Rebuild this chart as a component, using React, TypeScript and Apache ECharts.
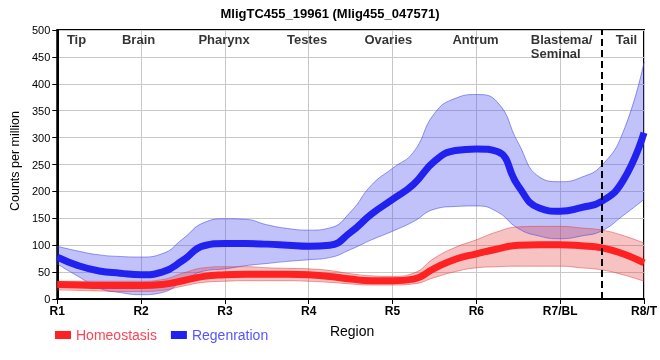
import React, { useEffect, useRef } from "react";
import * as echarts from "echarts";

const titleText = "MligTC455_19961 (Mlig455_047571)";
const xTickLabels = ["R1", "R2", "R3", "R4", "R5", "R6", "R7/BL", "R8/T"];

const xs = ["1", "1.25", "1.5", "1.75", "2", "2.25", "2.5", "2.75", "3", "3.25", "3.5", "3.75", "4", "4.25", "4.5", "4.75", "5", "5.25", "5.5", "5.75", "6", "6.25", "6.5", "6.75", "7", "7.25", "7.5", "7.75", "8"];
const stepsPerRegion = 4;

const regenMean = [78, 62, 52, 48, 45, 50, 72, 99, 103, 103, 102, 100, 98, 100, 124, 158, 185, 213, 256, 276, 279, 274, 210, 169, 163, 170, 182, 220, 309];
const regenUpper = [98, 89, 82, 79, 78, 84, 112, 142, 149, 148, 138, 131, 128, 132, 162, 212, 243, 273, 345, 373, 380, 366, 290, 227, 218, 226, 249, 310, 440];
const regenLower = [65, 42, 20, 12, 8, 12, 33, 52, 56, 62, 66, 70, 73, 77, 92, 110, 126, 144, 167, 172, 173, 162, 131, 117, 112, 117, 127, 155, 185];

const homeoMean = [27, 26, 25, 25, 25, 27, 34, 42, 45, 46, 46, 46, 45, 42, 37, 34, 34, 37, 57, 74, 84, 93, 100, 101, 101, 99, 95, 84, 67];
const homeoUpper = [33, 33, 33, 33, 33, 36, 48, 58, 60, 60, 58, 57, 56, 53, 47, 43, 42, 48, 76, 96, 110, 125, 134, 135, 135, 132, 128, 118, 104];
const homeoLower = [17, 16, 15, 14, 14, 16, 24, 31, 33, 34, 34, 34, 33, 31, 28, 26, 26, 28, 40, 51, 58, 60, 61, 61, 61, 58, 54, 45, 33];

const regionNames = ["Tip", "Brain", "Pharynx", "Testes", "Ovaries", "Antrum", "Blastema/\nSeminal", "Tail"];
const regionX = [1.23, 1.97, 2.99, 3.98, 4.95, 5.99, 6.65, 7.79];
const regionY = [483, 483, 483, 483, 483, 483, 470, 483];
const dividerX = "7.5";

export default function App() {
  const ref = useRef<HTMLDivElement>(null);
  useEffect(() => {
    if (!ref.current) return;
    const chart = echarts.init(ref.current, undefined, { renderer: "svg" });
    const diff = (u: number[], l: number[]) => u.map((v, i) => v - l[i]);
    const onRegion = (i: number) => i % stepsPerRegion === 0;
    const blueEdge = { color: "rgba(70,70,230,0.55)", width: 1 };
    const redEdge = { color: "rgba(225,60,60,0.5)", width: 1 };
    const option: any = {
      animation: false,
      textStyle: { fontFamily: "Liberation Sans, Arial, sans-serif" },
      title: {
        text: titleText,
        left: "center",
        top: 2,
        textStyle: { fontSize: 13, fontWeight: "bold", color: "#000" },
      },
      legend: {
        left: 50,
        top: 323,
        icon: "rect",
        itemWidth: 16,
        itemHeight: 8,
        itemGap: 14,
        itemTextGap: 3,
        textStyle: { fontSize: 14 },
        data: [
          { name: "Homeostasis", textStyle: { color: "#ff4455" } },
          { name: "Regenration", textStyle: { color: "#5555ff" } },
        ],
      },
      grid: {
        left: 50,
        right: 9,
        top: 30,
        bottom: 61,
        show: true,
        borderColor: "#000",
        borderWidth: 2,
      },
      xAxis: [
        {
          type: "category",
          data: xs,
          boundaryGap: false,
          name: "Region",
          nameLocation: "middle",
          nameGap: 25,
          nameTextStyle: { fontSize: 14, color: "#000", padding: [0, 0, 0, 3] },
          axisLine: { lineStyle: { color: "#000", width: 2 } },
          axisTick: {
            length: 5,
            interval: (i: number) => onRegion(i),
            lineStyle: { color: "#000" },
          },
          axisLabel: {
            interval: (i: number) => onRegion(i),
            formatter: (_v: string, i: number) => xTickLabels[i / stepsPerRegion] ?? "",
            fontWeight: "bold",
            fontSize: 12,
            color: "#000",
            margin: 6,
            showMaxLabel: true,
          },
          splitLine: {
            show: true,
            interval: (i: number) => onRegion(i),
            lineStyle: { color: "#c8c8c8" },
          },
        },
        {
          type: "value",
          min: 1,
          max: 8,
          show: false,
        },
      ],
      yAxis: {
        type: "value",
        min: 0,
        max: 500,
        interval: 50,
        name: "Counts per million",
        nameLocation: "middle",
        nameGap: 30,
        nameTextStyle: { fontSize: 12.5, color: "#000", padding: [0, 0, 0, 7] },
        axisLine: { show: true, lineStyle: { color: "#000", width: 2 } },
        axisTick: { show: true, length: 5, lineStyle: { color: "#000" } },
        axisLabel: { fontSize: 11, color: "#000", margin: 7 },
        splitLine: { show: true, lineStyle: { color: "#c8c8c8" } },
      },
      series: [
        {
          name: "regenLower",
          type: "line",
          stack: "regen",
          smooth: true,
          symbol: "none",
          lineStyle: blueEdge,
          data: regenLower,
          silent: true,
        },
        {
          name: "regenBand",
          type: "line",
          stack: "regen",
          smooth: true,
          symbol: "none",
          lineStyle: blueEdge,
          areaStyle: { color: "rgba(80,80,240,0.5)" },
          data: diff(regenUpper, regenLower),
          silent: true,
        },
        {
          name: "homeoLower",
          type: "line",
          stack: "homeo",
          smooth: true,
          symbol: "none",
          lineStyle: redEdge,
          data: homeoLower,
          silent: true,
        },
        {
          name: "homeoBand",
          type: "line",
          stack: "homeo",
          smooth: true,
          symbol: "none",
          lineStyle: redEdge,
          areaStyle: { color: "rgba(230,60,60,0.45)" },
          data: diff(homeoUpper, homeoLower),
          silent: true,
        },
        {
          name: "Regenration",
          type: "line",
          smooth: true,
          symbol: "none",
          itemStyle: { color: "#2222f0" },
          lineStyle: { color: "#2222f0", width: 7 },
          data: regenMean,
          markLine: {
            silent: true,
            symbol: "none",
            label: { show: false },
            lineStyle: { color: "#000", type: [7, 4], width: 2 },
            data: [{ xAxis: dividerX }],
          },
        },
        {
          name: "Homeostasis",
          type: "line",
          smooth: true,
          symbol: "none",
          itemStyle: { color: "#ff2222" },
          lineStyle: { color: "#ff2222", width: 7 },
          data: homeoMean,
        },
        {
          name: "regions",
          type: "scatter",
          xAxisIndex: 1,
          symbolSize: 0,
          silent: true,
          data: regionNames.map((n, i) => ({
            value: [regionX[i], regionY[i]],
            name: n,
            label: i === 6 ? { align: "left" } : undefined,
          })),
          label: {
            show: true,
            position: "inside",
            formatter: (p: any) => p.name,
            fontSize: 13,
            fontWeight: "bold",
            color: "#000",
            lineHeight: 14,
          },
        },
      ],
    };
    chart.setOption(option);
    return () => chart.dispose();
  }, []);
  return (
    <div
      ref={ref}
      style={{ position: "fixed", left: 0, top: 0, width: 660, height: 360 }}
    />
  );
}
